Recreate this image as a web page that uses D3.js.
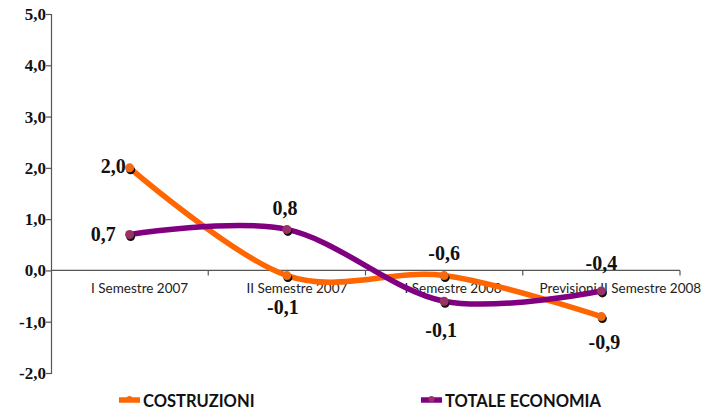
<!DOCTYPE html>
<html>
<head>
<meta charset="utf-8">
<script src="https://cdn.jsdelivr.net/npm/d3@7"></script>
<style>
  html, body { margin: 0; padding: 0; background: #fff; }
  svg { display: block; }
</style>
</head>
<body>
<svg id="chart" width="707" height="411"></svg>
<script>
// Periods on the horizontal axis
const categories = ["I Semestre 2007", "II Semestre 2007", "I Semestre 2008", "Previsioni II Semestre 2008"];
// Percentage change per period
const costruzioni = [2.0, -0.1, -0.1, -0.9];
const totaleEconomia = [0.7, 0.8, -0.6, -0.4];
const yTicks = [-2, -1, 0, 1, 2, 3, 4, 5];
const seriesNames = ["COSTRUZIONI", "TOTALE ECONOMIA"];

// Label placement (pixels, relative to each point)
const labelOffsets = {
  costruzioni: [[-4, 5, "end"], [-4, 38, "middle"], [-3, 61, "middle"], [3, 32, "middle"]],
  totale: [[-14, 6, "end"], [-2, -14, "middle"], [0, -41, "middle"], [0, -21, "middle"]]
};

const fmt = v => d3.format(".1f")(v).replace(".", ",").replace("−", "-");

const svg = d3.select("#chart");
const left = 51;

const x = d3.scaleBand().domain(categories).range([left, 680]).padding(0);
const y = d3.scaleLinear().domain([-2, 5]).range([373, 14]);

// Horizontal axis along zero
const xAxis = svg.append("g").attr("transform", `translate(0,${y(0)})`);
xAxis.append("line").attr("x1", left).attr("x2", 680).attr("stroke", "#555").attr("stroke-width", 1.2);
const bounds = categories.map(c => x(c) + x.bandwidth());
xAxis.selectAll("line.tick").data(bounds).enter().append("line")
  .attr("class", "tick").attr("x1", d => d).attr("x2", d => d).attr("y1", 0).attr("y2", 5)
  .attr("stroke", "#555").attr("stroke-width", 1.2);
const catShift = [10, 10, 9, 19];
xAxis.selectAll("text").data(categories).enter().append("text")
  .attr("x", (d, i) => x(d) + x.bandwidth() / 2 + catShift[i])
  .attr("y", 23)
  .attr("text-anchor", "middle")
  .attr("font-family", "Lato, 'Open Sans', sans-serif")
  .attr("font-size", 13.5)
  .attr("fill", "#222")
  .text(d => d);

// Vertical axis
const yAxis = d3.axisLeft(y).tickValues(yTicks).tickSize(5).tickFormat(fmt);
const ya = svg.append("g").attr("transform", `translate(${left},0)`).call(yAxis);
ya.select(".domain").attr("stroke", "#555").attr("stroke-width", 1.2);
ya.selectAll(".tick line").attr("stroke", "#555").attr("stroke-width", 1.2);
ya.selectAll(".tick text")
  .attr("x", -5)
  .attr("font-family", "'Liberation Serif', 'Times New Roman', serif")
  .attr("font-weight", "bold")
  .attr("font-size", 17)
  .attr("fill", "#111");

const px = i => x(categories[i]) + x.bandwidth() / 2;
const line = d3.line().x((d, i) => px(i)).y(d => y(d)).curve(d3.curveCardinal.tension(0));

const series = [
  { key: "costruzioni", values: costruzioni, color: "#FF6600", marker: "#F46A10" },
  { key: "totale", values: totaleEconomia, color: "#800080", marker: "#993366" }
];

series.forEach(s => {
  svg.append("path").datum(s.values).attr("d", line)
    .attr("fill", "none").attr("stroke", s.color).attr("stroke-width", 5.5)
    .attr("stroke-linecap", "round");
});

series.forEach(s => {
  const g = svg.append("g");
  g.selectAll("circle.shadow").data(s.values).enter().append("circle")
    .attr("cx", (d, i) => px(i) + 1).attr("cy", d => y(d) + 2).attr("r", 4.5).attr("fill", "#111");
  g.selectAll("circle.pt").data(s.values).enter().append("circle")
    .attr("cx", (d, i) => px(i)).attr("cy", d => y(d)).attr("r", 4.5).attr("fill", s.marker);
});

// Value labels
series.forEach(s => {
  svg.append("g").selectAll("text").data(s.values).enter().append("text")
    .attr("x", (d, i) => px(i) + labelOffsets[s.key][i][0])
    .attr("y", (d, i) => y(d) + labelOffsets[s.key][i][1])
    .attr("text-anchor", (d, i) => labelOffsets[s.key][i][2])
    .attr("font-family", "'Liberation Serif', 'Times New Roman', serif")
    .attr("font-weight", "bold")
    .attr("font-size", 20)
    .attr("fill", "#111")
    .text(d => fmt(d));
});

// Legend
const legend = svg.append("g");
const legendItems = [
  { name: seriesNames[0], x: 119, color: "#FF6600", marker: "#F46A10" },
  { name: seriesNames[1], x: 421, color: "#800080", marker: "#993366" }
];
legendItems.forEach(it => {
  legend.append("line").attr("x1", it.x).attr("x2", it.x + 21).attr("y1", 400).attr("y2", 400)
    .attr("stroke", it.color).attr("stroke-width", 5.5);
  legend.append("circle").attr("cx", it.x + 10.5).attr("cy", 399).attr("r", 3).attr("fill", it.marker);
  legend.append("text").attr("x", it.x + 24).attr("y", 407)
    .attr("font-family", "Lato, 'Open Sans', sans-serif").attr("font-weight", "bold")
    .attr("font-size", 16.5).attr("fill", "#111").text(it.name);
});
</script>
</body>
</html>
